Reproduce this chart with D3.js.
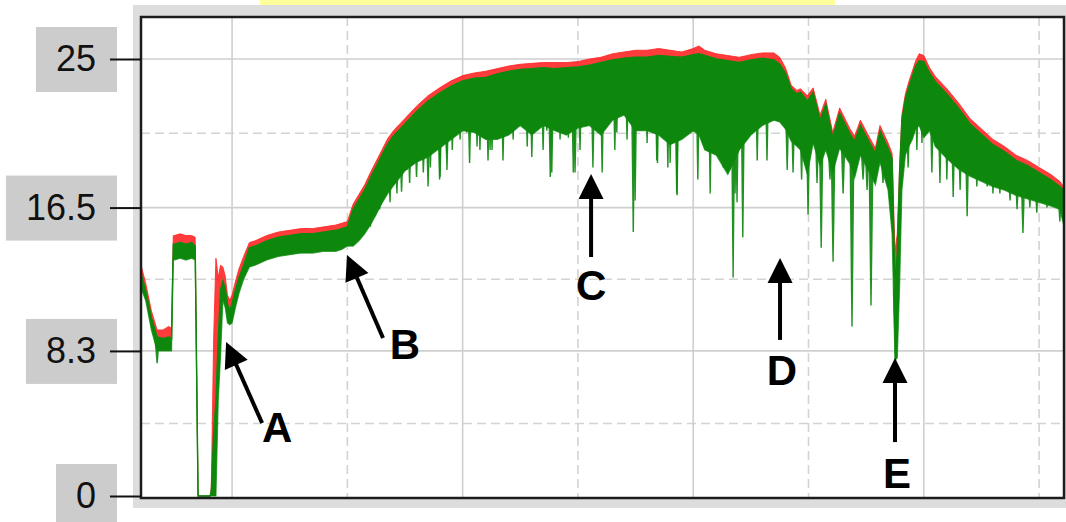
<!DOCTYPE html>
<html>
<head>
<meta charset="utf-8">
<script src="https://cdn.jsdelivr.net/npm/d3@7"></script>
<style>
  html, body { margin: 0; padding: 0; background: #ffffff; }
  svg { display: block; }
</style>
</head>
<body>
<svg id="chart" width="1066" height="522"></svg>
<script>
// ---- Signal samples: position along the run, upper trace (red), dense band top / bottom (green)
const sampleT = [21, 25, 30, 35, 40, 45, 47.5, 49, 50, 55, 60, 65, 68, 70.5, 81, 82, 84, 86, 88, 90,
  92, 94, 96, 98, 100, 103, 106, 110, 115, 120, 130, 140, 150, 160, 170, 180, 190, 195, 200,
  205, 210, 215, 220, 225, 230, 235, 240, 250, 260, 270, 280, 290, 300, 310, 320, 330, 340, 350,
  360, 370, 380, 390, 400, 410, 420, 430, 440, 450, 460, 470, 480, 490, 500, 505, 510, 520, 530,
  540, 550, 560, 570, 575, 580, 585, 590, 593, 599, 604, 610, 615, 621, 627, 636, 640, 645, 653,
  658, 662, 669, 672.5, 675, 677, 679, 681, 684, 687, 690, 693, 696, 700, 705, 710, 720, 730, 740,
  750, 760, 770, 780, 790, 800, 810, 818, 821];

const upperTrace = [13.2, 12.2, 10.6, 9.5, 9.5, 9.7, 9.6, 14.9, 14.9, 15.0, 14.9, 14.9, 14.8, 0, 0, 0.5, 9, 13.6, 12.5, 13.2,
  13.1, 12.6, 11.5, 11.2, 11.5, 12.3, 13.0, 13.7, 14.5, 14.6, 14.9, 15.1, 15.2, 15.3, 15.3, 15.4, 15.5, 15.6, 15.7,
  16.7, 17.25, 17.8, 18.5, 19.15, 19.8, 20.45, 20.9, 21.6, 22.3, 22.9, 23.35, 23.75, 24.05, 24.2, 24.3, 24.45, 24.6, 24.7,
  24.75, 24.8, 24.8, 24.8, 24.85, 25.0, 25.1, 25.3, 25.4, 25.5, 25.5, 25.6, 25.5, 25.4, 25.6, 25.75, 25.5, 25.3, 25.2,
  25.1, 25.25, 25.35, 25.35, 25.1, 24.5, 23.5, 23.2, 23.3, 22.9, 23.35, 21.8, 22.7, 20.8, 22.2, 21.0, 20.6, 21.5, 20.5,
  19.9, 21.2, 20.2, 19.6, 14.0, 15.0, 18.8, 21.8, 23.0, 23.7, 24.3, 24.9, 25.3, 25.2, 24.5, 24.0, 23.3, 22.5, 21.6,
  21.0, 20.4, 20.0, 19.5, 19.2, 18.8, 18.4, 18.0, 17.7];

const bandTop = [12.7, 11.8, 10.2, 9.1, 9.0, 9.1, 9.0, 14.4, 14.4, 14.5, 14.4, 14.5, 14.3, 0, 0, 0.3, 3.5, 5.5, 9.0, 11.8,
  12.3, 11.9, 11.0, 10.6, 11.0, 11.8, 12.5, 13.2, 14.2, 14.3, 14.6, 14.8, 14.9, 15.0, 15.0, 15.1, 15.2, 15.3, 15.4,
  16.4, 16.95, 17.5, 18.2, 18.85, 19.5, 20.15, 20.6, 21.3, 22.0, 22.6, 23.05, 23.45, 23.75, 23.9, 23.95, 24.15, 24.3, 24.4,
  24.45, 24.5, 24.45, 24.5, 24.55, 24.65, 24.8, 24.95, 25.05, 25.1, 25.1, 25.2, 25.15, 25.1, 25.25, 25.3, 25.2, 25.0, 24.9,
  24.8, 24.95, 25.05, 24.95, 24.7, 24.2, 23.3, 23.0, 23.1, 22.6, 23.1, 21.5, 22.4, 20.5, 21.9, 20.7, 20.3, 21.2, 20.2,
  19.6, 20.9, 19.9, 19.3, 12.0, 14.0, 18.5, 21.5, 22.7, 23.4, 24.0, 24.6, 24.9, 24.85, 24.2, 23.7, 23.0, 22.2, 21.3,
  20.7, 20.1, 19.7, 19.2, 18.9, 18.5, 18.1, 17.7, 17.5];

const bandLow = [11.9, 11.2, 9.5, 8.3, 8.3, 8.3, 8.3, 13.6, 13.5, 13.6, 13.5, 13.6, 13.5, 0, 0, 0, 0, 0, 5.5, 8.0,
  11.2, 10.8, 9.9, 9.8, 9.9, 10.8, 11.6, 12.4, 13.1, 13.2, 13.5, 13.7, 13.8, 13.9, 13.9, 14.0, 14.0, 14.1, 14.3,
  14.3, 14.6, 15.0, 15.5, 16.1, 16.75, 17.3, 17.75, 18.6, 19.1, 19.4, 19.9, 20.4, 20.9, 20.8, 20.4, 20.4, 20.65, 21.2,
  20.65, 21.2, 20.9, 20.65, 21.05, 21.2, 20.65, 21.5, 21.8, 20.9, 20.9, 20.65, 20.1, 20.4, 20.9, 20.65, 19.8, 19.5, 18.4,
  19.8, 20.65, 21.2, 21.5, 21.4, 21.0, 20.3, 20.0, 19.8, 18.4, 20.2, 18.9, 19.8, 18.5, 19.9, 19.0, 18.2, 19.5, 18.5,
  17.8, 19.1, 17.5, 15.0, 7.8, 7.9, 12.0, 17.5, 19.5, 20.0, 20.4, 21.0, 21.2, 20.5, 20.9, 20.0, 19.3, 18.7, 18.3,
  18.0, 17.7, 17.5, 17.2, 17.0, 16.8, 16.6, 16.4, 15.6];

// ---- Short downward dropouts below the dense band
const dipT = [35, 211, 220, 222.5, 228, 234, 237, 243, 247, 251.6, 254, 260, 265.9, 270, 272, 280, 280.4, 286.2, 286.4, 291,
  297.8, 303.6, 306, 312.5, 315, 318, 322, 323.8, 325.5, 335, 341, 343.8, 356, 360, 369.8, 373, 376, 377.3, 384.5, 391.7,
  396, 397.5, 401.8, 413, 421, 432, 433.7, 442.6, 448, 449.6, 460, 468.4, 469, 478, 480, 485.7, 486, 504, 508.8, 514.7,
  526, 532, 534.6, 536.3, 538, 543, 555.5, 564, 581.5, 586.6, 594, 599.6, 607.4, 611, 618.6, 621.3, 630, 637.7, 647.3, 650.8,
  654.2, 664.6, 675.5, 686.4, 694, 698.4, 707, 714, 720, 725.5, 731.5, 737.6, 746, 755, 760, 766, 774.8, 780.9, 786, 792,
  798, 806.8, 812, 818];
const dipLow = [7.6, 14.8, 15.4, 16.5, 16.4, 17.5, 16.8, 17.3, 17.4, 18.65, 17.9, 18.25, 18.5, 17.7, 18.8, 18.1, 18.25, 19.6, 18.65, 19.8,
  20.4, 20.8, 19.05, 20.0, 19.8, 20.5, 19.2, 19.8, 19.8, 19.2, 20.8, 20.4, 20.0, 19.4, 19.8, 20.9, 18.25, 18.5, 20.4, 20.5,
  18.5, 18.5, 19.8, 18.8, 18.5, 19.8, 20.8, 20.4, 15.1, 16.9, 20.2, 19.2, 19.05, 18.8, 19.05, 17.3, 17.2, 18.1, 20.4, 17.3,
  18.8, 18.65, 12.5, 17.3, 16.8, 14.8, 19.2, 19.2, 18.65, 18.5, 18.1, 16.1, 17.9, 14.2, 18.1, 13.4, 17.3, 9.7, 18.1, 17.5,
  10.9, 17.9, 7.7, 18.8, 19.8, 20.2, 18.5, 17.9, 18.1, 17.1, 17.5, 16.0, 17.7, 17.7, 17.3, 17.3, 16.9, 16.4, 15.05, 16.5,
  16.2, 16.5, 17.1, 15.7];

// ---- Axis ticks and grid
const yTicks = [0, 8.3, 16.5, 25];
const yMidGrid = [4.15, 12.4, 20.75];
const xSolidGrid = [100, 300, 500, 700];
const xDashGrid = [200, 400, 600, 800];

// ---- Event markers
const markerLabels = ["A", "B", "C", "D", "E"];
const markerT = [94.8, 199.7, 411.4, 575.3, 675.0];
const markerV = [8.81, 13.79, 18.42, 13.62, 7.89];

// ================= drawing =================
const svg = d3.select("#chart");
const W = 1066, H = 522;
const plot = { left: 141, top: 17, right: 1064, bottom: 498 };

const x = d3.scaleLinear().domain([21, 821]).range([141, 1063.3]);
const y = d3.scaleLinear().domain([0, 25]).range([496, 59]);

// title strip and panel background
svg.append("rect").attr("x", 260).attr("y", 0).attr("width", 575).attr("height", 5.5).attr("fill", "#ffff9c");
svg.append("rect").attr("x", 133).attr("y", 5).attr("width", W - 133).attr("height", 503).attr("fill", "#dddddd");
svg.append("rect").attr("x", plot.left).attr("y", plot.top)
  .attr("width", plot.right - plot.left).attr("height", plot.bottom - plot.top).attr("fill", "#ffffff");

const defs = svg.append("defs");
defs.append("clipPath").attr("id", "plotClip")
  .append("rect").attr("x", plot.left).attr("y", plot.top)
  .attr("width", plot.right - plot.left).attr("height", plot.bottom - plot.top);
// the recorder output is slightly soft
defs.append("filter").attr("id", "soft").attr("x", "-2%").attr("y", "-2%").attr("width", "104%").attr("height", "104%")
  .append("feGaussianBlur").attr("stdDeviation", 0.6);

// grid
const grid = svg.append("g").attr("clip-path", "url(#plotClip)");
grid.selectAll("line.hs").data(yTicks.filter(d => d > 0)).join("line")
  .attr("x1", plot.left).attr("x2", plot.right)
  .attr("y1", d => y(d)).attr("y2", d => y(d))
  .attr("stroke", "#cfcfcf").attr("stroke-width", 1.6);
grid.selectAll("line.hd").data(yMidGrid).join("line")
  .attr("x1", plot.left).attr("x2", plot.right)
  .attr("y1", d => y(d)).attr("y2", d => y(d))
  .attr("stroke", "#d3d3d3").attr("stroke-width", 1.6).attr("stroke-dasharray", "9,5");
grid.selectAll("line.vs").data(xSolidGrid).join("line")
  .attr("x1", d => x(d)).attr("x2", d => x(d))
  .attr("y1", plot.top).attr("y2", plot.bottom)
  .attr("stroke", "#cfcfcf").attr("stroke-width", 1.6);
grid.selectAll("line.vd").data(xDashGrid).join("line")
  .attr("x1", d => x(d)).attr("x2", d => x(d))
  .attr("y1", plot.top).attr("y2", plot.bottom)
  .attr("stroke", "#d3d3d3").attr("stroke-width", 1.6).attr("stroke-dasharray", "9,5");

// signal
const rows = sampleT.map((t, i) => ({ t, red: upperTrace[i], top: bandTop[i], low: bandLow[i] }));
const traces = svg.append("g").attr("clip-path", "url(#plotClip)").append("g").attr("filter", "url(#soft)");

traces.append("path").datum(rows)
  .attr("d", d3.area().x(d => x(d.t)).y0(d => y(d.top)).y1(d => y(d.red)))
  .attr("fill", "#ff1a1a").attr("fill-opacity", 0.85);
traces.append("path").datum(rows)
  .attr("d", d3.line().x(d => x(d.t)).y(d => y(d.red)))
  .attr("fill", "none").attr("stroke", "#ff2222").attr("stroke-width", 1).attr("stroke-opacity", 0.8);

// dropouts: tapered slivers from inside the band down to the dropout value
const nearestTop = t => {
  const i = d3.bisectLeft(sampleT, t);
  const a = rows[Math.max(0, i - 1)], b = rows[Math.min(rows.length - 1, i)];
  return Math.min(a.top, b.top);
};
const dips = dipT.map((t, i) => ({ t, low: dipLow[i] }));
traces.selectAll("path.dip").data(dips).join("path")
  .attr("class", "dip")
  .attr("d", d => {
    const cx = x(d.t), yb = y(nearestTop(d.t)) + 3, yl = y(d.low);
    return `M${cx - 2.6},${yb}L${cx - 0.7},${yl}L${cx + 0.7},${yl}L${cx + 2.6},${yb}Z`;
  })
  .attr("fill", "#0e890e").attr("fill-opacity", 0.92);

traces.append("path").datum(rows)
  .attr("d", d3.area().x(d => x(d.t)).y0(d => y(d.low)).y1(d => y(d.top)))
  .attr("fill", "#088808");
traces.append("path").datum(rows)
  .attr("d", d3.line().x(d => x(d.t)).y(d => y(d.top)))
  .attr("fill", "none").attr("stroke", "#088808").attr("stroke-width", 1.4);
traces.append("path").datum(rows)
  .attr("d", d3.line().x(d => x(d.t)).y(d => y(d.low)))
  .attr("fill", "none").attr("stroke", "#088808").attr("stroke-width", 1.2).attr("stroke-opacity", 0.7);

// plot frame
svg.append("rect").attr("x", plot.left).attr("y", plot.top)
  .attr("width", plot.right - plot.left).attr("height", plot.bottom - plot.top)
  .attr("fill", "none").attr("stroke", "#1c1c1c").attr("stroke-width", 2.5);

// y axis with boxed labels
const axis = svg.append("g").attr("transform", `translate(${plot.left},0)`)
  .call(d3.axisLeft(y).tickValues(yTicks).tickSize(31).tickPadding(14).tickFormat(d => String(d)));
axis.select(".domain").remove();
axis.selectAll(".tick line").attr("stroke", "#111").attr("stroke-width", 2);
axis.selectAll(".tick text")
  .attr("font-family", "Liberation Sans, Arial, sans-serif")
  .attr("font-size", 36).attr("fill", "#111");
axis.selectAll(".tick").each(function () {
  const g = d3.select(this);
  const bb = g.select("text").node().getBBox();
  g.insert("rect", ":first-child")
    .attr("x", bb.x - 20).attr("y", -32.5)
    .attr("width", bb.width + 41).attr("height", 65)
    .attr("fill", "#cccccc");
});

// event markers: arrow pointing at the trace, letter at the tail
const arrowOffsets = [[36, 81], [36, 83], [0, 83], [0, 82], [0, 84]];
const labelOffsets = [[51, 100], [58, 104], [0, 126], [2, 127], [2, 130]];
const marks = svg.append("g");
markerLabels.forEach((lab, i) => {
  const tx = x(markerT[i]), ty = y(markerV[i]);
  const sx = tx + arrowOffsets[i][0], sy = ty + arrowOffsets[i][1];
  const dx = tx - sx, dy = ty - sy, len = Math.hypot(dx, dy);
  const ux = dx / len, uy = dy / len;
  const headLen = 25, headHalf = 12.5;
  const bx = tx - ux * headLen, by = ty - uy * headLen;
  marks.append("line").attr("x1", sx).attr("y1", sy).attr("x2", bx + ux * 2).attr("y2", by + uy * 2)
    .attr("stroke", "#000").attr("stroke-width", 4);
  marks.append("polygon")
    .attr("points", [[tx, ty], [bx - uy * headHalf, by + ux * headHalf], [bx + uy * headHalf, by - ux * headHalf]].map(p => p.join(",")).join(" "))
    .attr("fill", "#000");
  marks.append("text")
    .attr("x", tx + labelOffsets[i][0]).attr("y", ty + labelOffsets[i][1])
    .attr("text-anchor", "middle")
    .attr("font-family", "Liberation Sans, Arial, sans-serif")
    .attr("font-weight", "bold").attr("font-size", 42).attr("fill", "#000")
    .text(lab);
});
</script>
</body>
</html>
